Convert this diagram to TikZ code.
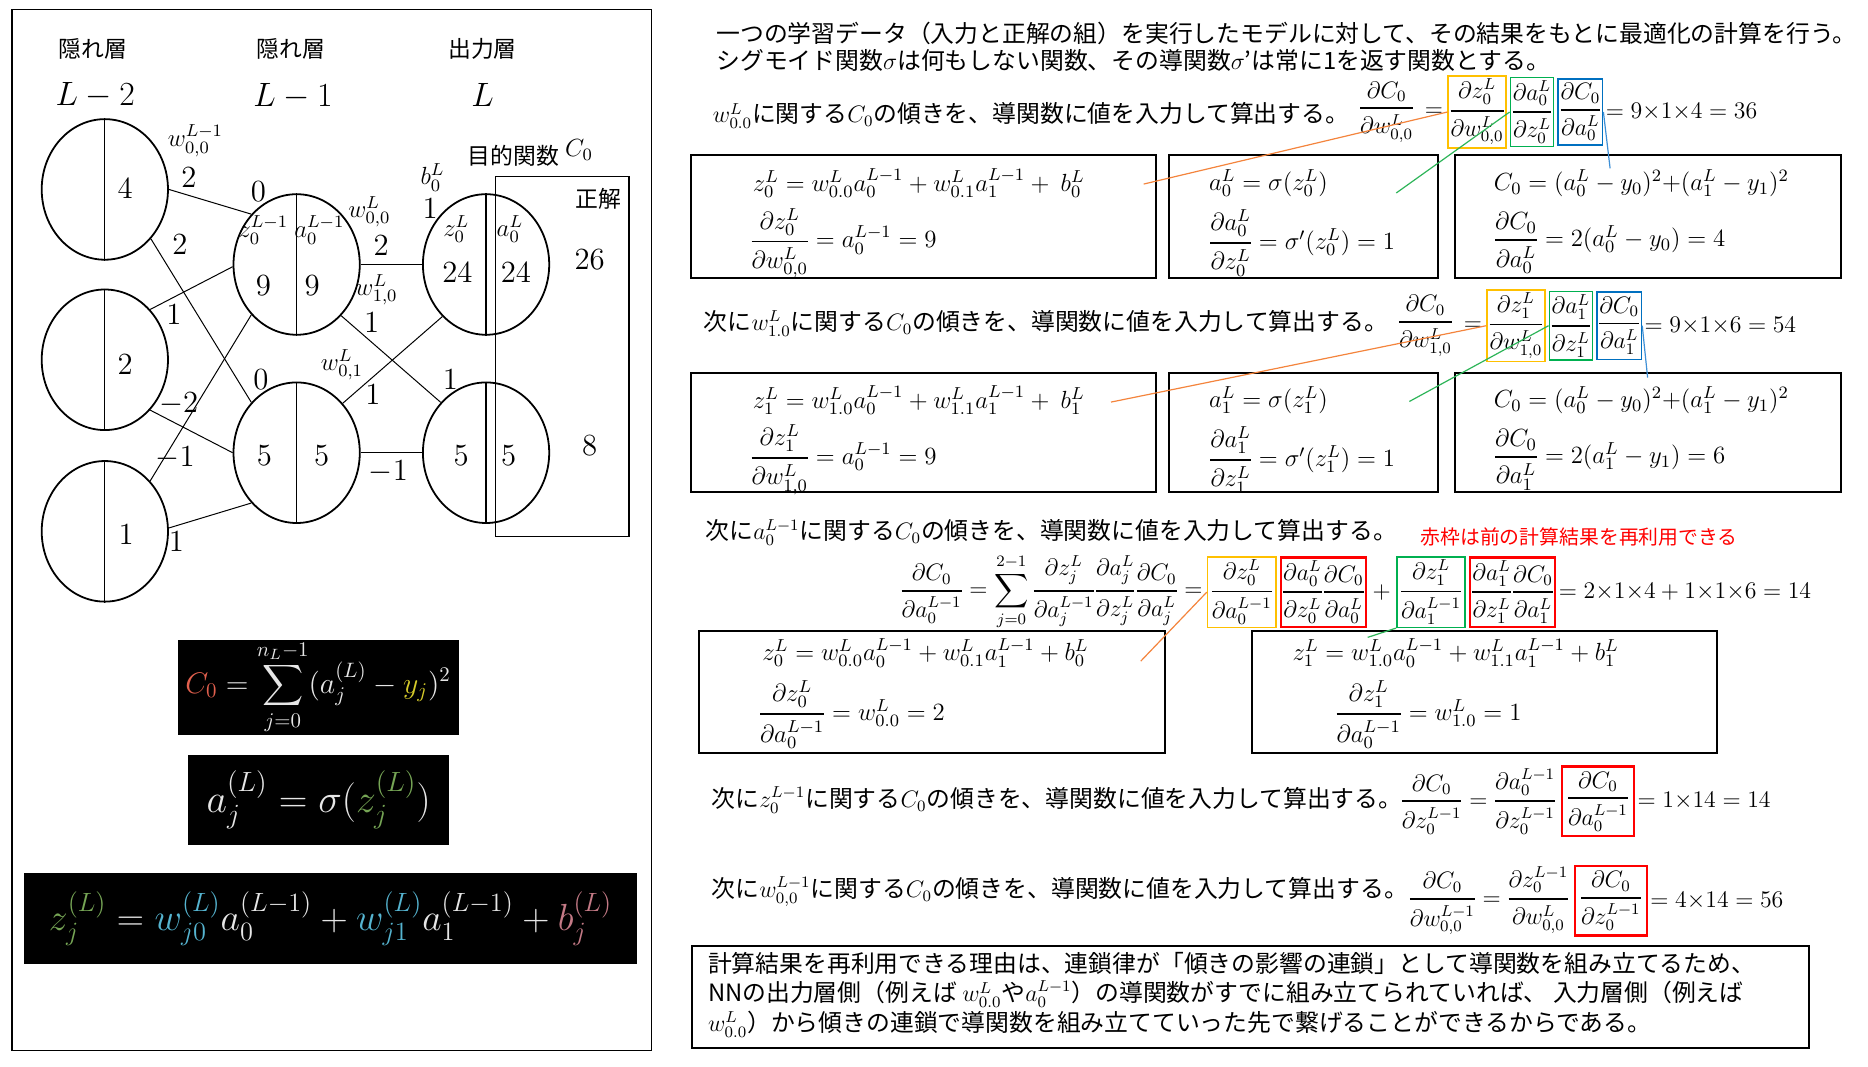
\RequirePackage{fix-cm}
\documentclass[tikz,border=0pt]{standalone}
\usepackage{amsmath}
\usepackage[no-math]{fontspec}
\setmainfont{Noto Sans CJK JP}
\usetikzlibrary{shapes.geometric,positioning}
\definecolor{oboxc}{HTML}{FFC000}
\definecolor{gboxc}{HTML}{00B050}
\definecolor{bboxc}{HTML}{0070C0}
\definecolor{olinec}{HTML}{F4843C}
\definecolor{glinec}{HTML}{2DB558}
\definecolor{blinec}{HTML}{3D8FD6}
\definecolor{redc}{HTML}{FF0000}
\definecolor{fC}{HTML}{E2604E}
\definecolor{fy}{HTML}{D6CB2A}
\definecolor{fz}{HTML}{76A555}
\definecolor{fw}{HTML}{55B4D0}
\definecolor{fb}{HTML}{C47A86}
\definecolor{fg}{HTML}{E6E6E6}
\newcommand{\dpf}[2]{\genfrac{}{}{0.9pt}{0}{\partial #1}{\partial #2}}
\nulldelimiterspace=0.6pt
\tikzset{
 neuron/.style={draw, line width=0.9pt, ellipse, minimum width=63.6pt, minimum height=70.8pt, inner sep=0pt},
 num/.style={font=\fontsize{15.5pt}{17pt}\selectfont, inner sep=0pt},
 big/.style={font=\fontsize{17pt}{19pt}\selectfont, inner sep=0pt},
 smath/.style={font=\fontsize{12.5pt}{14pt}\selectfont, inner sep=0pt},
 jlab/.style={font=\fontsize{11.5pt}{13pt}\selectfont, inner sep=0pt},
 jt/.style={font=\fontsize{12pt}{14pt}\selectfont, inner sep=0pt, anchor=west},
 eq/.style={font=\fontsize{12.5pt}{15pt}\selectfont, inner sep=1pt},
 eqs/.style={font=\fontsize{12pt}{14pt}\selectfont, inner sep=1pt},
 cbox/.style={eqs, line width=0.8pt, inner xsep=0.6pt, inner ysep=1.5pt, minimum height=33pt},
 obox/.style={cbox, draw=oboxc},
 gbox/.style={cbox, draw=gboxc},
 bbox/.style={cbox, draw=bboxc},
 rbox/.style={cbox, draw=redc, line width=1.2pt, minimum height=35pt},
 frame/.style={line width=1pt},
 wedge/.style={line width=0.5pt},
 divl/.style={line width=0.6pt},
 blk/.style={fill=black, text=fg, inner sep=0pt},
 oline/.style={olinec, line width=0.6pt},
 gline/.style={glinec, line width=0.6pt},
 bline/.style={blinec, line width=0.6pt},
}
\begin{document}
\begin{tikzpicture}[x=0.6pt,y=-0.6pt]
\fill[white] (0,0) rectangle (1568,895);
\path[use as bounding box] (0,0) rectangle (1568,895);

% ================= left panel =================
\draw[line width=0.6pt] (10,8) rectangle (547,882);
\node[jlab] (h1) at (78,41) {隠れ層};
\node[jlab] (h2) at (244,41) {隠れ層};
\node[jlab] (h3) at (405,41) {出力層};
\node[big] (l1) at (80,80) {$L-2$};
\node[big] (l2) at (246,81) {$L-1$};
\node[big] (l3) at (405,80) {$L$};

\draw[line width=0.6pt] (416,148) rectangle (528,450);

\node[neuron] (A1) at (88,159) {};
\node[neuron] (A2) at (88,302) {};
\node[neuron] (A3) at (88,446) {};
\node[neuron] (B1) at (249,222) {};
\node[neuron] (B2) at (249,380) {};
\node[neuron] (C1) at (408,222) {};
\node[neuron] (C2) at (408,380) {};
\foreach \n in {A1,A2,A3,B1,B2,C1,C2} \draw[divl] (\n.north) -- (\n.south);

\draw[wedge] (A1.0) -- (B1.132);
\draw[wedge] (A1.-47) -- (B2.132);
\draw[wedge] (A2.48) -- (B1.182);
\draw[wedge] (A2.-48) -- (B2.180);
\draw[wedge] (A3.48) -- (B1.228);
\draw[wedge] (A3.3) -- (B2.228);
\draw[wedge] (B1.0) -- (C1.180);
\draw[wedge] (B1.-49) -- (C2.132);
\draw[wedge] (B2.47) -- (C1.230);
\draw[wedge] (B2.0) -- (C2.180);

\node[num] (vA1) at (105,158) {$4$};
\node[num] (vA2) at (105,306) {$2$};
\node[num] (vA3) at (106,449) {$1$};
\node[smath] (zB1) at (221,193) {$z_0^{L-1}$};
\node[smath] (aB1) at (268,193) {$a_0^{L-1}$};
\node[num] (zvB1) at (221,240) {$9$};
\node[num] (avB1) at (262,240) {$9$};
\node[num] (zvB2) at (222,382) {$5$};
\node[num] (avB2) at (270,382) {$5$};
\node[smath] (zC1) at (383,192) {$z_0^L$};
\node[smath] (aC1) at (428,192) {$a_0^L$};
\node[num] (zvC1) at (384,229) {$24$};
\node[num] (avC1) at (433,229) {$24$};
\node[num] (zvC2) at (387,382) {$5$};
\node[num] (avC2) at (427,382) {$5$};
\node[num] (y0) at (495,218) {$26$};
\node[num] (y1) at (495,374) {$8$};
\node[jlab] (ans) at (502,167) {正解};
\node[jlab] (obj) at (431,131) {目的関数};
\node[smath] (cost) at (486,126) {$C_0$};
\node[smath] (bC1) at (363,149) {$b_0^L$};
\node[num] (bvC1) at (361,175) {$1$};

\node[smath] (wl1) at (164,118) {$w_{0,0}^{L-1}$};
\node[num] (wv1) at (158.5,149) {$2$};
\node[num] (wv2) at (151,205) {$2$};
\node[num] (bv1) at (217,161) {$0$};
\node[num] (wv3) at (146,264) {$1$};
\node[num] (wv4) at (150,339) {$-2$};
\node[num] (wv5) at (147,384) {$-1$};
\node[num] (wv6) at (148,455) {$1$};
\node[num] (bv2) at (219,319) {$0$};
\node[smath] (wl2) at (310,178) {$w_{0,0}^L$};
\node[num] (wv7) at (320,206) {$2$};
\node[smath] (wl3) at (316,243) {$w_{1,0}^L$};
\node[num] (wv8) at (312,271) {$1$};
\node[smath] (wl4) at (287,306) {$w_{0,1}^L$};
\node[num] (wv9) at (313,331) {$1$};
\node[num] (wv10) at (378,319) {$1$};
\node[num] (wv11) at (326,396) {$-1$};

\node[blk, minimum width=141.6pt, minimum height=48pt, font=\fontsize{15pt}{17pt}\selectfont] (f1) at (267,577)
 {$\displaystyle \textcolor{fC}{C_0} = \sum_{j=0}^{n_L-1} (a_j^{(L)} - \textcolor{fy}{y_j})^2$};
\node[blk, minimum width=131.4pt, minimum height=45pt, font=\fontsize{20pt}{22pt}\selectfont] (f2) at (267.5,671.5)
 {$a_j^{(L)} = \sigma(\textcolor{fz}{z_j^{(L)}})$};
\node[blk, minimum width=309pt, minimum height=45.6pt, font=\fontsize{19pt}{21pt}\selectfont] (f3) at (277.5,771)
 {$\textcolor{fz}{z_j^{(L)}} = \textcolor{fw}{w_{j0}^{(L)}} a_0^{(L-1)} + \textcolor{fw}{w_{j1}^{(L)}} a_1^{(L-1)} + \textcolor{fb}{b_j^{(L)}}$};

% ================= right side =================
\node[jt] (t1) at (601,28) {一つの学習データ（入力と正解の組）を実行したモデルに対して、その結果をもとに最適化の計算を行う。};
\node[jt] (t2) at (601,51) {シグモイド関数$\sigma$は何もしない関数、その導関数$\sigma$'は常に1を返す関数とする。};

% ---- row 1
\node[jt] (r1t) at (598,97) {$w^L_{0.0}$に関する$C_0$の傾きを、導関数に値を入力して算出する。};
\node[obox, anchor=west] (r1o) at (1215,94) {$\dpf{z_0^L}{w_{0,0}^L}$};
\node[gbox, right=1.5pt of r1o] (r1g) {$\dpf{a_0^L}{z_0^L}$};
\node[bbox, right=1.5pt of r1g] (r1b) {$\dpf{C_0}{a_0^L}$};
\node[eqs, left=1pt of r1o] (r1e) {$=$};
\node[eqs, left=3pt of r1e] (r1l) {$\dpf{C_0}{w_{0,0}^L}$};
\node[eqs, right=0pt of r1b] (r1r) {$= 9{\times}1{\times}4 = 36$};

\draw[frame] (580,130) rectangle (970,233);
\draw[frame] (981,130) rectangle (1207,233);
\draw[frame] (1221,130) rectangle (1545,233);
\node[eq, anchor=west] (p1a1) at (630,154) {$z_0^L = w_{0.0}^L a_0^{L-1} + w_{0.1}^L a_1^{L-1} + \ b_0^L$};
\node[eq, anchor=west] (p1a2) at (628,204) {$\dpf{z_0^L}{w_{0,0}^L} = a_0^{L-1} = 9$};
\node[eq, anchor=west] (p1b1) at (1013,154) {$a_0^L = \sigma(z_0^L)$};
\node[eq, anchor=west] (p1b2) at (1013,204) {$\dpf{a_0^L}{z_0^L} = \sigma'(z_0^L) = 1$};
\node[eq, anchor=west] (p1c1) at (1252,154) {$C_0 = (a_0^L - y_0)^2{+}(a_1^L - y_1)^2$};
\node[eq, anchor=west] (p1c2) at (1252,204) {$\dpf{C_0}{a_0^L} = 2(a_0^L - y_0) = 4$};

\coordinate (r1oend) at (960,154.5);
\coordinate (r1gend) at (1172,162);
\coordinate (r1bend) at (1351.5,141.3);
\draw[oline] (r1o.west) -- (r1oend);
\draw[gline] (r1g.west) -- (r1gend);
\draw[bline] (r1b.east) -- (r1bend);

% ---- row 2
\node[jt] (r2t) at (590.5,271.5) {次に$w^L_{1.0}$に関する$C_0$の傾きを、導関数に値を入力して算出する。};
\node[obox, anchor=west, minimum height=34pt] (r2o) at (1247.6,273.4) {$\dpf{z_1^L}{w_{1,0}^L}$};
\node[gbox, minimum height=34pt, right=1.5pt of r2o] (r2g) {$\dpf{a_1^L}{z_1^L}$};
\node[bbox, minimum height=34pt, right=1.5pt of r2g] (r2b) {$\dpf{C_0}{a_1^L}$};
\node[eqs, left=1pt of r2o] (r2e) {$=$};
\node[eqs, left=3pt of r2e] (r2l) {$\dpf{C_0}{w_{1,0}^L}$};
\node[eqs, right=0pt of r2b] (r2r) {$= 9{\times}1{\times}6 = 54$};

\draw[frame] (580,313) rectangle (970,413);
\draw[frame] (981,313) rectangle (1207,413);
\draw[frame] (1221,313) rectangle (1545,413);
\node[eq, anchor=west] (p2a1) at (630,336) {$z_1^L = w_{1.0}^L a_0^{L-1} + w_{1.1}^L a_1^{L-1} + \ b_1^L$};
\node[eq, anchor=west] (p2a2) at (628,386) {$\dpf{z_1^L}{w_{1,0}^L} = a_0^{L-1} = 9$};
\node[eq, anchor=west] (p2b1) at (1013,336) {$a_1^L = \sigma(z_1^L)$};
\node[eq, anchor=west] (p2b2) at (1013,386) {$\dpf{a_1^L}{z_1^L} = \sigma'(z_1^L) = 1$};
\node[eq, anchor=west] (p2c1) at (1252,336) {$C_0 = (a_0^L - y_0)^2{+}(a_1^L - y_1)^2$};
\node[eq, anchor=west] (p2c2) at (1252,386) {$\dpf{C_0}{a_1^L} = 2(a_1^L - y_1) = 6$};

\coordinate (r2oend) at (932.6,337.5);
\coordinate (r2gend) at (1183,337);
\coordinate (r2bend) at (1383,317);
\draw[oline] (r2o.west) -- (r2oend);
\draw[gline] (r2g.west) -- (r2gend);
\draw[bline] (r2b.east) -- (r2bend);

% ---- row 3
\node[jt] (r3t) at (592,447) {次に$a_0^{L-1}$に関する$C_0$の傾きを、導関数に値を入力して算出する。};
\node[jt, font=\fontsize{10pt}{12pt}\selectfont, text=redc] (r3note) at (1192,451) {赤枠は前の計算結果を再利用できる};
\node[obox, anchor=west, minimum height=35pt, inner xsep=1.5pt] (r3o) at (1013,497) {$\dpf{z_0^L}{a_0^{L-1}}$};
\node[rbox, right=1.5pt of r3o] (r3r1) {$\dpf{a_0^L}{z_0^L}\dpf{C_0}{a_0^L}$};
\node[eqs, right=1.5pt of r3r1] (r3p) {$+$};
\node[gbox, minimum height=35pt, inner xsep=1.5pt, right=1.5pt of r3p] (r3g) {$\dpf{z_1^L}{a_1^{L-1}}$};
\node[rbox, right=1.5pt of r3g] (r3r2) {$\dpf{a_1^L}{z_1^L}\dpf{C_0}{a_1^L}$};
\node[eqs, right=0pt of r3r2] (r3r) {$= 2{\times}1{\times}4 + 1{\times}1{\times}6 = 14$};
\node[eqs, left=1pt of r3o] (r3l) {$\displaystyle \dpf{C_0}{a_0^{L-1}} = \sum_{j=0}^{2-1} \dpf{z_j^L}{a_j^{L-1}}\dpf{a_j^L}{z_j^L}\dpf{C_0}{a_j^L} =$};

\draw[frame] (587,530) rectangle (978,632);
\draw[frame] (1051,530) rectangle (1441,632);
\node[eq, anchor=west] (p3a1) at (638,548) {$z_0^L = w_{0.0}^L a_0^{L-1} + w_{0.1}^L a_1^{L-1} + b_0^L$};
\node[eq, anchor=west] (p3a2) at (635,600) {$\dpf{z_0^L}{a_0^{L-1}} = w_{0.0}^L = 2$};
\node[eq, anchor=west] (p3b1) at (1083,548) {$z_1^L = w_{1.0}^L a_0^{L-1} + w_{1.1}^L a_1^{L-1} + b_1^L$};
\node[eq, anchor=west] (p3b2) at (1119,600) {$\dpf{z_1^L}{a_0^{L-1}} = w_{1.0}^L = 1$};

\coordinate (r3oend) at (957.5,555);
\coordinate (r3gend) at (1148,535);
\draw[oline] (r3o.west) -- (r3oend);
\draw[gline] (r3g.south west) -- (r3gend);

% ---- row 4
\node[jt] (r4t) at (597,671.5) {次に$z_0^{L-1}$に関する$C_0$の傾きを、導関数に値を入力して算出する。};
\node[rbox, anchor=west, inner xsep=2.5pt] (r4r) at (1310,672.6) {$\dpf{C_0}{a_0^{L-1}}$};
\node[eqs, left=1pt of r4r] (r4l) {$\dpf{C_0}{z_0^{L-1}} = \dpf{a_0^{L-1}}{z_0^{L-1}}$};
\node[eqs, right=0pt of r4r] (r4res) {$= 1{\times}14 = 14$};

% ---- row 5
\node[jt] (r5t) at (597,748.5) {次に$w_{0,0}^{L-1}$に関する$C_0$の傾きを、導関数に値を入力して算出する。};
\node[rbox, anchor=west, inner xsep=2.5pt] (r5r) at (1321,756) {$\dpf{C_0}{z_0^{L-1}}$};
\node[eqs, left=1pt of r5r] (r5l) {$\dpf{C_0}{w_{0,0}^{L-1}} = \dpf{z_0^{L-1}}{w_{0,0}^L}$};
\node[eqs, right=0pt of r5r] (r5res) {$= 4{\times}14 = 56$};

% ---- bottom note
\draw[frame] (581,794) rectangle (1518.6,880);
\node[jt, font=\fontsize{12pt}{14.8pt}\selectfont, align=left, anchor=north west] (note) at (594,799)
 {計算結果を再利用できる理由は、連鎖律が「傾きの影響の連鎖」として導関数を組み立てるため、\\
  NNの出力層側（例えば $w_{0.0}^L$や$a_0^{L-1}$）の導関数がすでに組み立てられていれば、 入力層側（例えば\\
  $w_{0.0}^L$）から傾きの連鎖で導関数を組み立てていった先で繋げることができるからである。};
\end{tikzpicture}
\end{document}
